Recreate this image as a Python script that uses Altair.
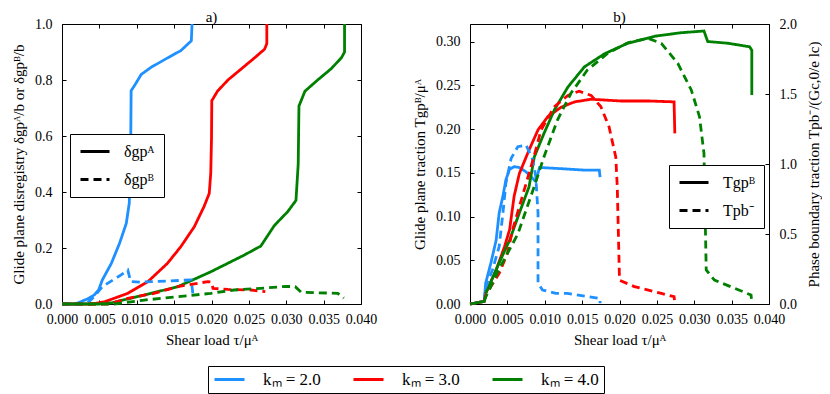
import altair as alt
import pandas as pd

FONT = "Liberation Serif"
KM = ["kₘ = 2.0", "kₘ = 3.0", "kₘ = 4.0"]
COLORS = ["#1e90ff", "#ff0000", "#008000"]

# ---------- panel a): glide plane disregistry ----------
a_km2_A_x = [0.0, 0.0018, 0.0025, 0.0034, 0.0043, 0.0049, 0.0054, 0.0066, 0.0077, 0.0086, 0.0090, 0.0091, 0.0092, 0.00925, 0.0097, 0.0106, 0.0119, 0.0142, 0.0159, 0.0173, 0.0174]
a_km2_A_y = [0.0, 0.0, 0.008, 0.018, 0.032, 0.05, 0.086, 0.145, 0.217, 0.288, 0.36, 0.45, 0.60, 0.762, 0.78, 0.82, 0.845, 0.88, 0.905, 0.94, 1.0]
a_km3_A_x = [0.0, 0.0040, 0.0057, 0.0088, 0.0115, 0.0141, 0.0159, 0.0177, 0.0190, 0.0197, 0.0199, 0.0200, 0.02004, 0.0208, 0.0222, 0.0240, 0.0258, 0.0271, 0.0274, 0.0274]
a_km3_A_y = [0.0, 0.0, 0.008, 0.038, 0.080, 0.145, 0.205, 0.276, 0.348, 0.395, 0.467, 0.59, 0.726, 0.76, 0.80, 0.84, 0.88, 0.91, 0.93, 1.0]
a_km4_A_x = [0.0, 0.0050, 0.0066, 0.0110, 0.0155, 0.0199, 0.0244, 0.0266, 0.0284, 0.0302, 0.0313, 0.0316, 0.0317, 0.0325, 0.0342, 0.0360, 0.0374, 0.0378, 0.0378]
a_km4_A_y = [0.0, 0.0, 0.004, 0.032, 0.062, 0.115, 0.175, 0.207, 0.28, 0.33, 0.37, 0.5, 0.707, 0.76, 0.80, 0.84, 0.88, 0.90, 1.0]
a_km2_B_x = [0.0, 0.0030, 0.0034, 0.0043, 0.0054, 0.0079, 0.0088, 0.0092, 0.0105, 0.0140, 0.0173, 0.0175]
a_km2_B_y = [0.0, 0.0, 0.004, 0.026, 0.062, 0.104, 0.121, 0.080, 0.078, 0.082, 0.086, 0.038]
a_km3_B_x = [0.0, 0.0060, 0.0066, 0.0088, 0.0123, 0.0155, 0.0195, 0.0200, 0.0202, 0.0222, 0.0253, 0.0272]
a_km3_B_y = [0.0, 0.0, 0.002, 0.020, 0.038, 0.062, 0.080, 0.078, 0.056, 0.052, 0.050, 0.044]
a_km4_B_x = [0.0, 0.0070, 0.0079, 0.0110, 0.0155, 0.0199, 0.0230, 0.0266, 0.0300, 0.0312, 0.0320, 0.0369, 0.0377]
a_km4_B_y = [0.0, 0.0, 0.003, 0.014, 0.026, 0.038, 0.050, 0.056, 0.063, 0.062, 0.042, 0.038, 0.021]

# ---------- panel b): tractions ----------
b_km2_T_x = [0.0, 0.0019, 0.0021, 0.0028, 0.0035, 0.0039, 0.0044, 0.0048, 0.0053, 0.0059, 0.0066, 0.0075, 0.0088, 0.0093, 0.0115, 0.0153, 0.0173, 0.0174]
b_km2_T_y = [0.0, 0.003, 0.024, 0.047, 0.073, 0.104, 0.123, 0.142, 0.154, 0.157, 0.156, 0.151, 0.140, 0.156, 0.155, 0.153, 0.153, 0.145]
b_km3_T_x = [0.0, 0.0019, 0.0021, 0.0035, 0.0046, 0.0053, 0.0059, 0.0066, 0.0079, 0.0091, 0.0104, 0.0122, 0.0140, 0.0162, 0.0202, 0.0240, 0.0273, 0.0274]
b_km3_T_y = [0.0, 0.003, 0.012, 0.039, 0.065, 0.085, 0.123, 0.149, 0.176, 0.199, 0.214, 0.225, 0.231, 0.234, 0.232, 0.232, 0.231, 0.195]
b_km4_T_x = [0.0, 0.0019, 0.0021, 0.0039, 0.0053, 0.0066, 0.0079, 0.0086, 0.0099, 0.0113, 0.0131, 0.0153, 0.0180, 0.0211, 0.0247, 0.0282, 0.0313, 0.0318, 0.0345, 0.0374, 0.0377, 0.0377]
b_km4_T_y = [0.0, 0.003, 0.012, 0.047, 0.073, 0.104, 0.134, 0.168, 0.195, 0.222, 0.248, 0.271, 0.286, 0.298, 0.306, 0.310, 0.312, 0.300, 0.298, 0.294, 0.290, 0.239]
b_km2_P_x = [0.0019, 0.0021, 0.0030, 0.0039, 0.0044, 0.0048, 0.0055, 0.0064, 0.0075, 0.0084, 0.0088, 0.0091, 0.0091, 0.0097, 0.0115, 0.0130, 0.0174, 0.0174]
b_km2_P_y = [0.02, 0.124, 0.243, 0.41, 0.648, 0.862, 1.04, 1.124, 1.136, 1.03, 0.91, 0.648, 0.148, 0.10, 0.076, 0.076, 0.04, 0.005]
b_km3_P_x = [0.0019, 0.0021, 0.0039, 0.0050, 0.0057, 0.0066, 0.0079, 0.0088, 0.0095, 0.0113, 0.0131, 0.0146, 0.0162, 0.0175, 0.0186, 0.0195, 0.0197, 0.0200, 0.0220, 0.0256, 0.0273, 0.0274]
b_km3_P_y = [0.02, 0.064, 0.219, 0.362, 0.529, 0.695, 0.933, 1.10, 1.243, 1.41, 1.49, 1.52, 1.49, 1.41, 1.266, 1.05, 0.84, 0.17, 0.124, 0.076, 0.052, 0.005]
b_km4_P_x = [0.0019, 0.0021, 0.0041, 0.0064, 0.0086, 0.0099, 0.0117, 0.0135, 0.0157, 0.0184, 0.0211, 0.0238, 0.0256, 0.0278, 0.0296, 0.0307, 0.0313, 0.0316, 0.0327, 0.0354, 0.0376, 0.0377]
b_km4_P_y = [0.02, 0.05, 0.27, 0.50, 0.84, 1.052, 1.314, 1.505, 1.671, 1.79, 1.866, 1.898, 1.862, 1.719, 1.529, 1.338, 1.076, 0.243, 0.171, 0.112, 0.064, 0.005]

A_LABELS = ["δgpᴬ", "δgpᴮ"]
B_LABELS = ["Tgpᴮ", "Tpb⁻"]


def rows(xs, ys, km, comp):
    return [dict(tau=x, v=y, km=km, comp=comp, i=k) for k, (x, y) in enumerate(zip(xs, ys))]


df_a = pd.DataFrame(
    rows(a_km2_A_x, a_km2_A_y, KM[0], A_LABELS[0]) + rows(a_km3_A_x, a_km3_A_y, KM[1], A_LABELS[0])
    + rows(a_km4_A_x, a_km4_A_y, KM[2], A_LABELS[0]) + rows(a_km2_B_x, a_km2_B_y, KM[0], A_LABELS[1])
    + rows(a_km3_B_x, a_km3_B_y, KM[1], A_LABELS[1]) + rows(a_km4_B_x, a_km4_B_y, KM[2], A_LABELS[1])
)
df_bT = pd.DataFrame(
    rows(b_km2_T_x, b_km2_T_y, KM[0], B_LABELS[0]) + rows(b_km3_T_x, b_km3_T_y, KM[1], B_LABELS[0])
    + rows(b_km4_T_x, b_km4_T_y, KM[2], B_LABELS[0])
)
df_bP = pd.DataFrame(
    rows(b_km2_P_x, b_km2_P_y, KM[0], B_LABELS[1]) + rows(b_km3_P_x, b_km3_P_y, KM[1], B_LABELS[1])
    + rows(b_km4_P_x, b_km4_P_y, KM[2], B_LABELS[1])
)

W, H = 299, 280
SW = 2.8
DASH = [8, 5]
x_ticks = [0.0, 0.005, 0.01, 0.015, 0.02, 0.025, 0.03, 0.035, 0.04]

AX = dict(offset=-4, tickSize=4, domain=False, grid=False, tickColor="black", minExtent=0,
          labelFlush=False, labelOverlap=False,
          labelFont=FONT, labelFontSize=14, labelColor="black",
          titleFont=FONT, titleFontSize=15, titleColor="black", titleFontWeight="normal")
MIRROR = dict(offset=-4, tickSize=4, domain=False, grid=False, tickColor="black", labels=False,
              title=None, minExtent=0, maxExtent=0)

xscale = alt.Scale(domain=[0, 0.04], nice=False, zero=False)

color_legend = alt.Legend(
    orient="none", legendX=146, legendY=342, direction="horizontal", columns=3, title=None,
    symbolType="stroke", symbolSize=900, symbolStrokeWidth=3, clipHeight=17,
    labelFont=FONT, labelFontSize=17, labelColor="black", labelOffset=17, columnPadding=31,
    padding=5, strokeColor="black", fillColor="white", cornerRadius=0, labelLimit=200,
)
color_enc = alt.Color("km:N", scale=alt.Scale(domain=KM, range=COLORS), legend=color_legend)


def dash_legend(lx, ly):
    return alt.Legend(
        orient="none", legendX=lx, legendY=ly, direction="vertical", title=None,
        symbolType="stroke", symbolSize=841, symbolStrokeWidth=3, symbolStrokeColor="black",
        clipHeight=17, labelFont=FONT, labelFontSize=16, labelColor="black", labelOffset=13,
        rowPadding=11, padding=9, strokeColor="black", fillColor="white", cornerRadius=0,
    )


def panel_title(t):
    return alt.TitleParams(t, font=FONT, fontSize=15, fontWeight="normal", color="black", offset=4, dy=12)


# ---- panel a
a_lines = alt.Chart(df_a).mark_line(strokeWidth=SW).encode(
    x=alt.X("tau:Q", scale=xscale, title="Shear load τ/μᴬ",
            axis=alt.Axis(values=x_ticks, format=".3f", labelPadding=8, titlePadding=6, **AX)),
    y=alt.Y("v:Q", scale=alt.Scale(domain=[0, 1], nice=False),
            title="Glide plane disregistry δgpᴬ/b or δgpᴮ/b",
            axis=alt.Axis(values=[0, 0.2, 0.4, 0.6, 0.8, 1.0], format=".1f", labelPadding=10, titlePadding=8, **AX)),
    color=color_enc,
    strokeDash=alt.StrokeDash("comp:N", scale=alt.Scale(domain=A_LABELS, range=[[1, 0], DASH]),
                              legend=dash_legend(8, 110)),
    order="i:Q",
)
a_mirror = alt.Chart(df_a).mark_line(opacity=0).encode(
    x=alt.X("tau:Q", scale=xscale, axis=alt.Axis(orient="top", values=x_ticks, **MIRROR)),
    y=alt.Y("v:Q", scale=alt.Scale(domain=[0, 1], nice=False),
            axis=alt.Axis(orient="right", values=[0, 0.2, 0.4, 0.6, 0.8, 1.0], **MIRROR)),
    detail="km:N",
)
panel_a = alt.layer(a_lines, a_mirror).resolve_axis(x="independent", y="independent").properties(
    width=W, height=H, title=panel_title("a)"),
)

# ---- panel b
dash_scale_b = alt.Scale(domain=B_LABELS, range=[[1, 0], DASH])
b_solid = alt.Chart(df_bT).mark_line(strokeWidth=SW).encode(
    x=alt.X("tau:Q", scale=xscale, title="Shear load τ/μᴬ",
            axis=alt.Axis(values=x_ticks, format=".3f", labelPadding=8, titlePadding=6, **AX)),
    y=alt.Y("v:Q", scale=alt.Scale(domain=[0, 0.32], nice=False), title="Glide plane traction Tgpᴮ/μᴬ",
            axis=alt.Axis(values=[0, 0.05, 0.1, 0.15, 0.2, 0.25, 0.3], format=".2f", labelPadding=10, titlePadding=8, **AX)),
    color=color_enc,
    strokeDash=alt.StrokeDash("comp:N", scale=dash_scale_b, legend=dash_legend(199, 141)),
    order="i:Q",
)
b_dashed = alt.Chart(df_bP).mark_line(strokeWidth=SW).encode(
    x=alt.X("tau:Q", scale=xscale, axis=alt.Axis(orient="top", values=x_ticks, **MIRROR)),
    y=alt.Y("v:Q", scale=alt.Scale(domain=[0, 2.0], nice=False), title="Phase boundary traction Tpb⁻/(Gc,0/e lc)",
            axis=alt.Axis(orient="right", values=[0, 0.5, 1.0, 1.5, 2.0], format=".1f", labelPadding=10,
                          titlePadding=10, titleAngle=270, titleBaseline="top", **AX)),
    color=color_enc,
    strokeDash=alt.StrokeDash("comp:N", scale=dash_scale_b, legend=dash_legend(199, 141)),
    order="i:Q",
)
panel_b = alt.layer(b_solid, b_dashed).resolve_scale(y="independent").resolve_axis(
    x="independent", y="independent").properties(
    width=W, height=H, title=panel_title("b)"),
)

chart = alt.hconcat(panel_a, panel_b, spacing=109, bounds="flush").resolve_scale(
    strokeDash="independent").resolve_legend(strokeDash="independent", color="shared").properties(
    padding={"left": 2, "top": 1, "right": 0, "bottom": 0},
).configure_view(stroke="black", strokeWidth=1)

chart.save("out.html", embed_options={"renderer": "svg", "actions": False})
